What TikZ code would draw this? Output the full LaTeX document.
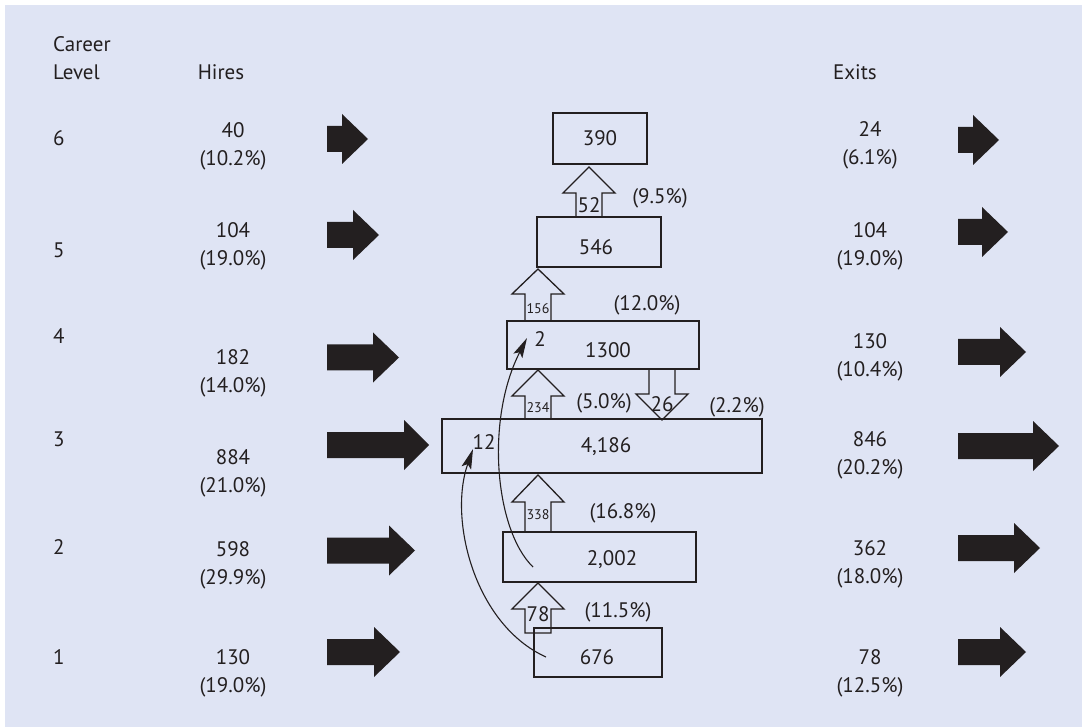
\documentclass[tikz,border=0pt]{standalone}
\usepackage{fontspec}
\setmainfont{PT Sans}
\usetikzlibrary{arrows.meta}
\definecolor{bg}{RGB}{223,228,244}
\definecolor{ink}{RGB}{35,31,32}

\tikzset{
  lbl/.style={text=ink, font=\fontsize{21}{28}\selectfont, inner sep=0pt, align=center},
  small/.style={text=ink, font=\fontsize{14}{16}\selectfont, inner sep=0pt},
  lvbox/.style={draw=ink, line width=1.3pt, inner sep=0pt},
  hollow/.style={draw=ink, line width=1.3pt, line join=miter},
  flow/.style={draw=ink, line width=1.1pt, -{Stealth[length=20pt,width=10pt,inset=4pt]}},
}

% hollow promotion arrow pointing up: centre x, tip y, head base y, shaft bottom y
\newcommand\hollowup[4]{%
  \draw[hollow] (#1-13,#4) -- (#1-13,#3) -- (#1-26,#3) -- (#1,#2) -- (#1+26,#3)
    -- (#1+13,#3) -- (#1+13,#4) -- cycle;}
% hollow demotion arrow pointing down: centre x, shaft top y, head base y, tip y
\newcommand\hollowdown[4]{%
  \draw[hollow] (#1-13,#2) -- (#1-13,#3) -- (#1-26,#3) -- (#1,#4) -- (#1+26,#3)
    -- (#1+13,#3) -- (#1+13,#2) -- cycle;}
% solid flow arrow: start x, head start x, tip x, centre y
\newcommand\fatarrow[4]{%
  \fill[ink] (#1,#4-13) -- (#2,#4-13) -- (#2,#4-25) -- (#3,#4) -- (#2,#4+25)
    -- (#2,#4+13) -- (#1,#4+13) -- cycle;}

\begin{document}
\begin{tikzpicture}[x=1pt,y=-1pt]
  \useasboundingbox (0,0) rectangle (1082,727);
  \fill[white] (0,0) rectangle (1082,727);
  \fill[bg] (5,5) rectangle (1082,727);

  % column headings
  \node[lbl, align=left, anchor=west] (hlevel) at (53,58) {Career\\Level};
  \node[lbl] (hhires) at (221,72) {Hires};
  \node[lbl] (hexits) at (855,72) {Exits};

  % career levels
  \node[lbl, anchor=west] (l6) at (53,138) {6};
  \node[lbl, anchor=west] (l5) at (53,250) {5};
  \node[lbl, anchor=west] (l4) at (53,336) {4};
  \node[lbl, anchor=west] (l3) at (53,439) {3};
  \node[lbl, anchor=west] (l2) at (53,547) {2};
  \node[lbl, anchor=west] (l1) at (53,657) {1};

  % hires
  \node[lbl] (h6) at (233,146) {40\\(10.2\%)};
  \node[lbl] (h5) at (233,246) {104\\(19.0\%)};
  \node[lbl] (h4) at (233,373) {182\\(14.0\%)};
  \node[lbl] (h3) at (233,473) {884\\(21.0\%)};
  \node[lbl] (h2) at (233,565) {598\\(29.9\%)};
  \node[lbl] (h1) at (233,673) {130\\(19.0\%)};

  % exits
  \node[lbl] (e6) at (870,145) {24\\(6.1\%)};
  \node[lbl] (e5) at (870,246) {104\\(19.0\%)};
  \node[lbl] (e4) at (870,357) {130\\(10.4\%)};
  \node[lbl] (e3) at (870,455) {846\\(20.2\%)};
  \node[lbl] (e2) at (870,564) {362\\(18.0\%)};
  \node[lbl] (e1) at (870,673) {78\\(12.5\%)};

  % inflow arrows
  \fatarrow{327}{342}{368}{139}
  \fatarrow{327}{353}{379}{235}
  \fatarrow{327}{373}{399}{357.5}
  \fatarrow{327}{404}{429}{445}
  \fatarrow{327}{389}{415}{550.5}
  \fatarrow{327}{374}{400}{652}

  % outflow arrows
  \fatarrow{958}{973}{999}{140}
  \fatarrow{958}{982}{1008}{232}
  \fatarrow{958}{1000}{1026}{352}
  \fatarrow{958}{1033}{1059}{446}
  \fatarrow{958}{1014}{1040}{548}
  \fatarrow{958}{1000}{1026}{652}

  % headcount boxes
  \node[lvbox, minimum width=94, minimum height=51] (b6) at (600,138.5) {};
  \node[lvbox, minimum width=124, minimum height=50] (b5) at (599,242) {};
  \node[lvbox, minimum width=192, minimum height=48] (b4) at (603,345) {};
  \node[lvbox, minimum width=320, minimum height=54] (b3) at (602,446) {};
  \node[lvbox, minimum width=193, minimum height=50] (b2) at (599.5,557) {};
  \node[lvbox, minimum width=128, minimum height=49] (b1) at (598,652.5) {};

  \node[lbl] (n6) at (600,138) {390};
  \node[lbl] (n5) at (596,247) {546};
  \node[lbl] (n4) at (608,350) {1300};
  \node[lbl] (n3) at (606,447) {4,186};
  \node[lbl] (n2) at (612,560) {2,002};
  \node[lbl] (n1) at (597,657) {676};

  % promotions
  \hollowup{589}{167}{193}{217}
  \hollowup{538}{269}{294}{321}
  \hollowup{538}{370}{396}{419}
  \hollowup{538}{475}{502}{532}
  \hollowup{538}{583}{609}{633}
  % demotion
  \hollowdown{662}{369}{394}{420}

  \node[lbl] (p52) at (589,205) {52};
  \node[small] (p156) at (538,309) {156};
  \node[small] (p234) at (538,408) {234};
  \node[small] (p338) at (538,515) {338};
  \node[lbl] (p78) at (538,614) {78};
  \node[lbl] (d26) at (662,404) {26};

  \node[lbl] (r52) at (660,198) {(9.5\%)};
  \node[lbl] (r156) at (647,305) {(12.0\%)};
  \node[lbl] (r234) at (604,403) {(5.0\%)};
  \node[lbl] (r26) at (737,407) {(2.2\%)};
  \node[lbl] (r338) at (623,513) {(16.8\%)};
  \node[lbl] (r78) at (618,612) {(11.5\%)};

  % skip-level promotions
  \node[lbl] (s12) at (484,442) {12};
  \node[lbl] (s2) at (540,339) {2};
  \coordinate (f1s) at (546,657);
  \coordinate (f1e) at (473,449);
  \coordinate (f2s) at (533,567);
  \coordinate (f2e) at (527,338);
  \draw[flow] (f1s) .. controls (475,625) and (448,520) .. (f1e);
  \draw[flow] (f2s) .. controls (495,530) and (485,420) .. (f2e);
\end{tikzpicture}
\end{document}
